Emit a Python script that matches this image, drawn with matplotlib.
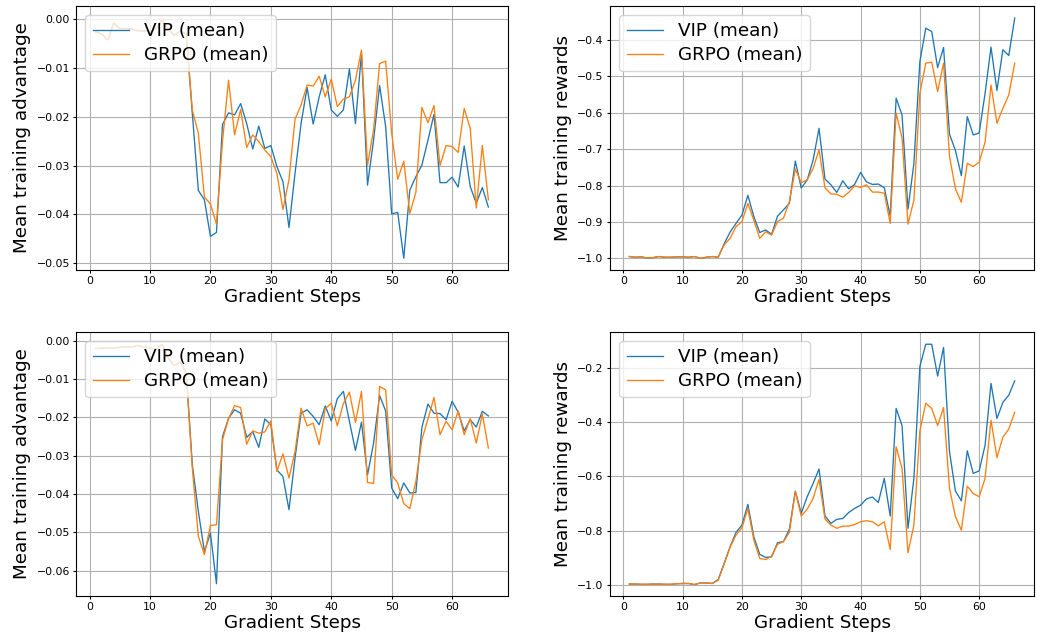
import matplotlib
matplotlib.use("Agg")
import matplotlib.pyplot as plt

# gradient steps 1..66
steps = list(range(1, 67))

# top-left: mean training advantage (run A)
adv_a_vip = [
    -0.0026, -0.0030, -0.0043, -0.0008, -0.0019, -0.0019, -0.0020, -0.0024,
    -0.0024, -0.0025, -0.0020, -0.0001, -0.0020, -0.0033, -0.0025, -0.0030,
    -0.0193, -0.0351, -0.0370, -0.0445, -0.0437, -0.0216, -0.0192, -0.0196,
    -0.0173, -0.0214, -0.0266, -0.0219, -0.0265, -0.0259, -0.0302, -0.0333,
    -0.0427, -0.0316, -0.0214, -0.0140, -0.0215, -0.0159, -0.0114, -0.0186,
    -0.0199, -0.0186, -0.0102, -0.0214, -0.0070, -0.0340, -0.0248, -0.0136,
    -0.0220, -0.0399, -0.0396, -0.0490, -0.0350, -0.0323, -0.0299, -0.0248,
    -0.0195, -0.0335, -0.0335, -0.0324, -0.0344, -0.0260, -0.0343, -0.0377,
    -0.0345, -0.0385,
]
adv_a_grpo = [
    -0.0026, -0.0030, -0.0043, -0.0008, -0.0019, -0.0019, -0.0020, -0.0024,
    -0.0024, -0.0025, -0.0020, -0.0001, -0.0020, -0.0033, -0.0025, -0.0030,
    -0.0186, -0.0234, -0.0364, -0.0379, -0.0420, -0.0250, -0.0125, -0.0237,
    -0.0185, -0.0263, -0.0237, -0.0251, -0.0268, -0.0282, -0.0316, -0.0390,
    -0.0329, -0.0205, -0.0176, -0.0135, -0.0137, -0.0117, -0.0159, -0.0123,
    -0.0179, -0.0164, -0.0159, -0.0125, -0.0063, -0.0299, -0.0227, -0.0091,
    -0.0086, -0.0234, -0.0328, -0.0291, -0.0398, -0.0355, -0.0181, -0.0212,
    -0.0177, -0.0300, -0.0259, -0.0261, -0.0273, -0.0183, -0.0224, -0.0387,
    -0.0259, -0.0370,
]

# top-right: mean training rewards (run A)
rew_a_vip = [
    -0.995, -0.997, -0.996, -0.999, -0.998, -0.995, -0.997, -0.997,
    -0.996, -0.996, -0.997, -0.995, -1.000, -0.997, -0.995, -0.997,
    -0.960, -0.928, -0.904, -0.881, -0.827, -0.885, -0.929, -0.922,
    -0.934, -0.884, -0.867, -0.849, -0.733, -0.807, -0.785, -0.730,
    -0.643, -0.782, -0.798, -0.819, -0.787, -0.809, -0.797, -0.764,
    -0.790, -0.797, -0.796, -0.806, -0.884, -0.560, -0.606, -0.865,
    -0.739, -0.460, -0.368, -0.377, -0.476, -0.421, -0.659, -0.704,
    -0.773, -0.611, -0.661, -0.656, -0.547, -0.420, -0.539, -0.427,
    -0.443, -0.340,
]
rew_a_grpo = [
    -0.995, -0.997, -0.996, -0.999, -0.998, -0.995, -0.997, -0.997,
    -0.996, -0.996, -0.997, -0.995, -1.000, -0.997, -0.995, -0.997,
    -0.963, -0.945, -0.913, -0.899, -0.849, -0.895, -0.945, -0.927,
    -0.936, -0.899, -0.890, -0.844, -0.755, -0.792, -0.785, -0.753,
    -0.702, -0.806, -0.823, -0.824, -0.832, -0.819, -0.801, -0.805,
    -0.798, -0.818, -0.818, -0.821, -0.904, -0.601, -0.670, -0.906,
    -0.840, -0.547, -0.464, -0.461, -0.542, -0.464, -0.720, -0.809,
    -0.846, -0.739, -0.748, -0.736, -0.681, -0.524, -0.629, -0.588,
    -0.551, -0.464,
]

# bottom-left: mean training advantage (run B)
adv_b_vip = [
    -0.0020, -0.0019, -0.0018, -0.0019, -0.0017, -0.0016, -0.0017, -0.0012,
    -0.0016, -0.0018, -0.0022, -0.0010, -0.0045, -0.0065, -0.0055, -0.0085,
    -0.0323, -0.0445, -0.0550, -0.0502, -0.0634, -0.0250, -0.0202, -0.0180,
    -0.0189, -0.0252, -0.0237, -0.0278, -0.0204, -0.0219, -0.0337, -0.0354,
    -0.0441, -0.0306, -0.0189, -0.0180, -0.0197, -0.0219, -0.0170, -0.0209,
    -0.0151, -0.0132, -0.0210, -0.0286, -0.0212, -0.0350, -0.0267, -0.0143,
    -0.0183, -0.0384, -0.0412, -0.0371, -0.0397, -0.0396, -0.0226, -0.0165,
    -0.0189, -0.0190, -0.0206, -0.0158, -0.0186, -0.0235, -0.0206, -0.0225,
    -0.0184, -0.0196,
]
adv_b_grpo = [
    -0.0020, -0.0019, -0.0018, -0.0019, -0.0017, -0.0016, -0.0017, -0.0012,
    -0.0016, -0.0018, -0.0022, -0.0010, -0.0045, -0.0065, -0.0055, -0.0085,
    -0.0332, -0.0510, -0.0558, -0.0482, -0.0480, -0.0258, -0.0203, -0.0169,
    -0.0174, -0.0270, -0.0235, -0.0241, -0.0238, -0.0209, -0.0341, -0.0295,
    -0.0358, -0.0289, -0.0176, -0.0222, -0.0215, -0.0271, -0.0177, -0.0163,
    -0.0222, -0.0164, -0.0134, -0.0213, -0.0132, -0.0370, -0.0372, -0.0119,
    -0.0128, -0.0350, -0.0371, -0.0425, -0.0438, -0.0367, -0.0258, -0.0204,
    -0.0148, -0.0245, -0.0210, -0.0232, -0.0183, -0.0245, -0.0203, -0.0267,
    -0.0191, -0.0280,
]

# bottom-right: mean training rewards (run B)
rew_b_vip = [
    -0.996, -0.996, -0.997, -0.997, -0.996, -0.996, -0.997, -0.997,
    -0.995, -0.994, -0.994, -0.998, -0.992, -0.992, -0.994, -0.979,
    -0.920, -0.859, -0.806, -0.779, -0.703, -0.822, -0.887, -0.898,
    -0.896, -0.844, -0.840, -0.794, -0.654, -0.736, -0.675, -0.626,
    -0.573, -0.745, -0.773, -0.758, -0.755, -0.733, -0.718, -0.706,
    -0.683, -0.676, -0.696, -0.607, -0.746, -0.350, -0.413, -0.791,
    -0.607, -0.196, -0.114, -0.114, -0.231, -0.126, -0.509, -0.654,
    -0.690, -0.506, -0.589, -0.580, -0.485, -0.258, -0.387, -0.328,
    -0.301, -0.249,
]
rew_b_grpo = [
    -0.996, -0.996, -0.997, -0.997, -0.996, -0.996, -0.997, -0.997,
    -0.995, -0.994, -0.994, -0.998, -0.992, -0.992, -0.994, -0.982,
    -0.923, -0.861, -0.816, -0.789, -0.718, -0.834, -0.902, -0.906,
    -0.893, -0.850, -0.840, -0.806, -0.656, -0.746, -0.721, -0.681,
    -0.611, -0.757, -0.779, -0.791, -0.783, -0.783, -0.777, -0.767,
    -0.763, -0.767, -0.782, -0.767, -0.869, -0.491, -0.571, -0.881,
    -0.779, -0.433, -0.331, -0.350, -0.413, -0.347, -0.644, -0.748,
    -0.798, -0.636, -0.663, -0.675, -0.607, -0.393, -0.531, -0.456,
    -0.426, -0.364,
]

W, H = 1037, 640
fig = plt.figure(figsize=(W / 100, H / 100), dpi=100)


def px_axes(x0, y0, x1, y1):
    """Axes from pixel box (top-left origin)."""
    return fig.add_axes([x0 / W, 1 - y1 / H, (x1 - x0) / W, (y1 - y0) / H])


panels = [
    (px_axes(76, 6, 508, 270), adv_a_vip, adv_a_grpo, "Mean training advantage", (-0.0514, 0.0027)),
    (px_axes(610, 6, 1034, 270), rew_a_vip, rew_a_grpo, "Mean training rewards", (-1.032, -0.307)),
    (px_axes(76, 332, 508, 596), adv_b_vip, adv_b_grpo, "Mean training advantage", (-0.0666, 0.0023)),
    (px_axes(610, 332, 1034, 596), rew_b_vip, rew_b_grpo, "Mean training rewards", (-1.04, -0.069)),
]

for ax, vip, grpo, ylabel, ylim in panels:
    ax.plot(steps, vip, color="tab:blue", lw=0.95, label="VIP (mean)")
    ax.plot(steps, grpo, color="tab:orange", lw=0.95, label="GRPO (mean)")
    ax.set_ylim(*ylim)
    ax.set_xlabel("Gradient Steps", fontsize=13.2, labelpad=1)
    ax.set_ylabel(ylabel, fontsize=13.2, labelpad=4)
    ax.tick_params(labelsize=7.8, length=2.5, pad=2)
    ax.grid(True)
    ax.legend(loc="upper left", fontsize=13.2, handlelength=2.0,
              borderaxespad=0.5, labelspacing=0.3)

fig.savefig("out.png", dpi=100)
